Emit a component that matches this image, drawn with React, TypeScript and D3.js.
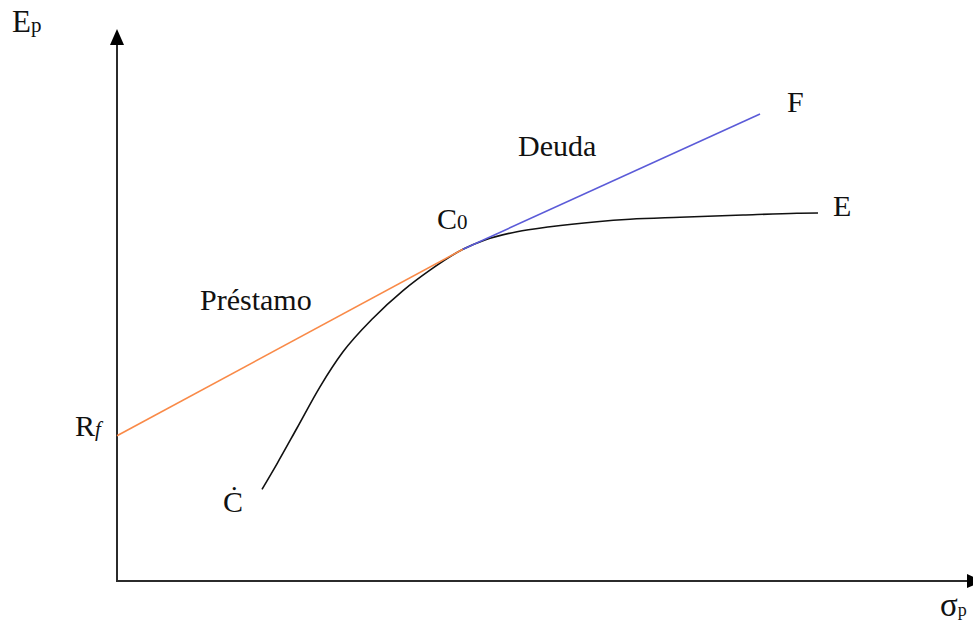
import React from "react";
import * as d3 from "d3";

// Data (arbitrary units: sigma_p on x, E_p on y)
const rfReturn = 2.63;
const tangentSigma = [0, 4.07];
const tangentReturn = [2.63, 6.01];
const debtSigma = [4.07, 7.565];
const debtReturn = [6.01, 8.46];
const curveSigma = [1.706, 1.882, 2.118, 2.388, 2.659, 3.012, 3.365, 3.682, 4.07, 4.329, 4.706, 5.094, 5.647, 6.035, 6.624, 7.365, 8.0, 8.247];
const curveReturn = [1.661, 2.123, 2.772, 3.518, 4.152, 4.761, 5.261, 5.632, 6.01, 6.178, 6.328, 6.418, 6.509, 6.553, 6.589, 6.63, 6.661, 6.667];

const W = 973;
const H = 623;
const FONT = "'Liberation Serif', 'Times New Roman', serif";

export default function App() {
  const x = d3.scaleLinear().domain([0, 10]).range([117, 967]);
  const y = d3.scaleLinear().domain([0, 10]).range([581, 29]);

  const line = d3
    .line<[number, number]>()
    .x((d) => x(d[0]))
    .y((d) => y(d[1]));
  const smooth = d3
    .line<[number, number]>()
    .x((d) => x(d[0]))
    .y((d) => y(d[1]))
    .curve(d3.curveMonotoneX);

  const tangent = line(tangentSigma.map((s, i) => [s, tangentReturn[i]] as [number, number]));
  const debt = line(debtSigma.map((s, i) => [s, debtReturn[i]] as [number, number]));
  const frontier = smooth(curveSigma.map((s, i) => [s, curveReturn[i]] as [number, number]));

  const x0 = x(0);
  const y0 = y(0);
  const yTop = y(10);
  const xEnd = x(10);

  const axisColor = "#2b2b2b";

  return (
    <svg
      width={W}
      height={H}
      style={{ position: "absolute", left: 0, top: 0, background: "#fff" }}
      fontFamily={FONT}
    >
      {/* axes */}
      <line x1={x0} y1={y0} x2={x0} y2={yTop + 14} stroke={axisColor} strokeWidth={2} />
      <path d={`M${x0},${yTop} L${x0 - 7},${yTop + 16} L${x0 + 7},${yTop + 16} Z`} fill="#000" />
      <line x1={x0 - 1} y1={y0} x2={xEnd + 2} y2={y0} stroke={axisColor} strokeWidth={2} />
      <path d={`M${xEnd + 16},${y0} L${xEnd},${y0 - 7} L${xEnd},${y0 + 7} Z`} fill="#000" />

      {/* lines */}
      <path d={frontier ?? ""} fill="none" stroke="#111" strokeWidth={1.6} />
      <path d={tangent ?? ""} fill="none" stroke="#F98A48" strokeWidth={1.6} />
      <path d={debt ?? ""} fill="none" stroke="#5B5BD8" strokeWidth={1.6} />

      {/* labels */}
      <text x={12} y={32} fontSize={31} fill="#111">
        E<tspan fontSize={21}>p</tspan>
      </text>
      <text x={75} y={y(rfReturn)} fontSize={30} fill="#111">
        R<tspan fontSize={21} fontStyle="italic">f</tspan>
      </text>
      <text x={200} y={310} fontSize={30} fill="#111">Préstamo</text>
      <text x={518} y={156} fontSize={30} fill="#111">Deuda</text>
      <text x={437} y={229} fontSize={30} fill="#111">
        C<tspan fontSize={21}>0</tspan>
      </text>
      <text x={787} y={112} fontSize={30} fill="#111">F</text>
      <text x={833} y={216} fontSize={30} fill="#111">E</text>
      <text x={223} y={512} fontSize={30} fill="#111">Ċ</text>
      <text x={940} y={616} fontSize={33} fill="#111">
        σ<tspan fontSize={18}>p</tspan>
      </text>
    </svg>
  );
}
